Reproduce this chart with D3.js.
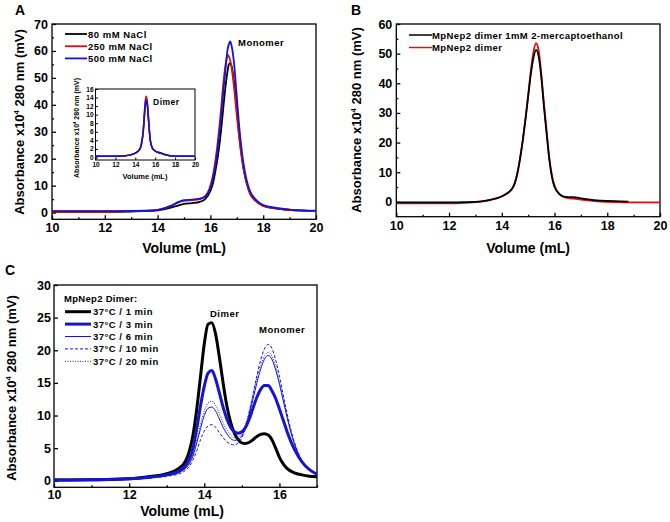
<!DOCTYPE html>
<html><head><meta charset="utf-8">
<script src="https://cdn.jsdelivr.net/npm/d3@7"></script>
<style>
body{margin:0;background:#fff;}
text{font-family:"Liberation Sans",Arial,sans-serif;font-weight:bold;fill:#000;}
</style></head>
<body><svg id="c" width="670" height="522"></svg>
<script>
// ---------- DATA ----------
// Panel A (main): volume (mL) and absorbance series
const volA = [10,11,12,13,13.5,14,14.5,14.8,15.0,15.3,15.6,15.8,16.0,16.1,16.2,16.3,16.4,16.5,16.6,16.65,16.7,16.75,16.8,16.9,17.0,17.1,17.2,17.3,17.4,17.5,17.7,18.0,18.5,19,19.5,20];
const a80  = [0.3,0.3,0.3,0.4,0.5,0.8,1.8,2.7,3.2,3.5,4.0,5.0,8,11,16,22,30,40,49,52.5,55,55.5,54.5,48,38,28,20,14,10,7,4.5,2.5,1.5,1.0,0.7,0.5];
const a250 = [0.4,0.4,0.4,0.5,0.6,1.0,2.5,3.8,4.3,4.6,5.0,6.0,10,14,20,28,38,49,56.5,58.5,58,56.5,54,46,36,27,19.5,14,10,7.2,4.5,2.5,1.5,1.0,0.7,0.5];
const a500 = [0.5,0.5,0.5,0.6,0.7,1.0,2.5,4.0,4.6,4.8,5.2,6.0,9,13,18,26,35,46,56,60.5,62.5,63.5,62,55,43,31,22,15.5,11,8,5,2.8,1.7,1.1,0.8,0.7];
const legendA = ["80 mM NaCl","250 mM NaCl","500 mM NaCl"];
// Panel A inset
const volIn = [10,12,13,13.5,14,14.4,14.6,14.8,14.9,15.0,15.1,15.2,15.3,15.4,15.5,15.7,16,16.5,17,17.5,18,20];
const in80  = [0.3,0.3,0.4,0.6,1.0,1.7,2.8,6,9,12,13,12.3,9.5,6.5,4,2.2,1.5,1.1,0.7,0.4,0.3,0.3];
const in250 = [0.3,0.3,0.4,0.6,1.0,1.8,3.0,6.5,10,13.2,14.3,13.2,10,6.8,4.2,2.3,1.5,1.0,0.6,0.4,0.3,0.3];
const in500 = [0.3,0.3,0.4,0.6,1.0,1.8,3.0,6.3,9.5,12.5,13.5,12.8,9.8,6.8,4.2,2.3,1.5,1.0,0.6,0.4,0.3,0.3];
// Panel B
const volB = [10,11,12,12.5,13,13.5,14,14.2,14.4,14.5,14.6,14.7,14.8,14.9,15.0,15.1,15.2,15.3,15.4,15.5,15.6,15.7,15.8,15.9,16.0,16.2,16.4,16.6,16.8,17,17.5,18,18.5,18.8,19,20];
const bRed   = [-0.5,-0.5,-0.5,-0.4,-0.1,0.5,1.8,2.8,4.5,6.5,10,15,21,28,36,44,50.5,53.5,51,43,33,24,15,9,5.5,2.5,1.5,1.2,1.0,0.8,0.3,0,-0.1,-0.2,-0.2,-0.2];
const bBlack = [-0.2,-0.2,-0.2,-0.1,0,0.6,1.9,2.9,4.6,6.5,10,15,21,28,35.5,43,48.5,51.3,49,42,32,23,14.5,8.5,5,2.5,1.7,1.6,1.5,1.2,0.6,0.3,0.2,0.1,null,null];
const legendB = ["MpNep2 dimer 1mM 2-mercaptoethanol","MpNep2 dimer"];
// Panel C
const volC = [10,11,12,12.5,13,13.3,13.5,13.6,13.7,13.8,13.9,14.0,14.1,14.2,14.3,14.4,14.5,14.6,14.7,14.8,14.9,15.0,15.1,15.2,15.3,15.4,15.5,15.6,15.7,15.8,15.9,16.0,16.1,16.2,16.4,16.6,16.8,17];
const c1  = [0.1,0.15,0.3,0.6,1.1,1.8,3.0,4.5,7,11,16,21,24,24.2,22.5,19,15,11.5,9,7.3,6.3,5.8,5.7,5.9,6.3,6.8,7.1,7.2,7.0,6.3,5.0,3.6,2.6,1.9,1.2,0.9,0.7,0.6];
const c3  = [0.1,0.15,0.3,0.5,0.9,1.4,2.3,3.3,5,8,11.5,14.5,16.5,16.9,15.6,13.5,11.3,9.5,8.2,7.5,7.3,7.5,8.2,9.5,11.2,12.8,14.0,14.6,14.6,13.8,12.6,11.0,9.3,7.6,4.8,2.9,1.7,1.0];
const c6  = [0.1,0.15,0.3,0.45,0.8,1.2,1.9,2.6,3.8,5.8,8,10,11.1,11.3,10.7,9.5,8.2,7.2,6.5,6.2,6.3,6.9,8.2,10.2,12.6,15.0,17.1,18.6,19.2,18.6,17.0,14.8,12.3,9.8,5.6,3.0,1.7,1.0];
const c10 = [0.1,0.15,0.25,0.4,0.7,1.0,1.6,2.2,3.2,4.6,6.3,7.6,8.4,8.6,8.2,7.4,6.6,6.0,5.6,5.5,5.8,6.6,8.2,10.6,13.3,16.1,18.5,20.2,20.9,20.3,18.5,16.0,13.2,10.4,5.9,3.1,1.7,1.0];
const c20 = [0.1,0.15,0.3,0.5,0.85,1.3,2.0,2.8,4.1,6.2,8.6,10.7,11.9,12.2,11.6,10.3,8.9,7.8,7.0,6.6,6.7,7.3,8.7,10.8,13.3,15.7,17.7,19.1,19.7,19.1,17.5,15.2,12.6,10.0,5.7,3.0,1.7,1.0];
const legendC = ["37°C / 1 min","37°C / 3 min","37°C / 6 min","37°C / 10 min","37°C / 20 min"];
// tick labels
const ticksXA = [10,12,14,16,18,20];
const ticksYA = [0,10,20,30,40,50,60,70];
const ticksYB = [0,10,20,30,40,50,60];
const ticksXC = [10,12,14,16];
const ticksYC = [0,5,10,15,20,25,30];
const ticksYIn = [0,2,4,6,8,10,12,14,16];

// ---------- DRAW ----------
const svg = d3.select("#c");
const BLUE = "#1414d2", RED = "#e01010";

function frame(g, x, y, opt) {
  const [x0,x1] = x.range(), [y0,y1] = y.range();
  const tl = opt.tickLen || 4;
  const ax = g.append("g").attr("transform", `translate(0,${y0})`)
    .call(d3.axisBottom(x).tickValues(opt.xt).tickSize(-tl).tickPadding(opt.pad||4).tickFormat(d3.format("d")));
  ax.select(".domain").remove();
  ax.selectAll("text").style("font-size", opt.fs+"px");
  if (opt.xminor) g.append("g").attr("transform", `translate(0,${y0})`)
    .call(d3.axisBottom(x).tickValues(opt.xminor).tickSize(-tl/2).tickFormat(""))
    .select(".domain").remove();
  const ay = g.append("g").attr("transform", `translate(${x0},0)`)
    .call(d3.axisLeft(y).tickValues(opt.yt).tickSize(-tl).tickPadding(opt.pad||4).tickFormat(d3.format("d")));
  ay.select(".domain").remove();
  ay.selectAll("text").style("font-size", opt.fs+"px");
  if (opt.yminor) g.append("g").attr("transform", `translate(${x0},0)`)
    .call(d3.axisLeft(y).tickValues(opt.yminor).tickSize(-tl/2).tickFormat(""))
    .select(".domain").remove();
  g.selectAll(".tick line").attr("stroke", "#000").attr("stroke-width", opt.sw||1.3);
  g.append("rect").attr("x", x0).attr("y", y1).attr("width", x1-x0).attr("height", y0-y1)
    .attr("fill", "none").attr("stroke", "#000").attr("stroke-width", opt.sw||1.3);
}

function series(g, x, y, xs, ys, color, w, dash) {
  const pts = xs.map((v,i)=>[v, ys[i]]).filter(d=>d[1]!=null);
  g.append("path").datum(pts)
    .attr("d", d3.line().x(d=>x(d[0])).y(d=>y(d[1])).curve(d3.curveMonotoneX))
    .attr("fill","none").attr("stroke",color).attr("stroke-width",w)
    .attr("stroke-dasharray", dash||null).attr("stroke-linejoin","round");
}

function ylabel(g, cx, cy, fs) {
  const t = g.append("text").attr("transform", `translate(${cx},${cy}) rotate(-90)`)
    .attr("text-anchor","middle").style("font-size", fs+"px");
  t.append("tspan").text("Absorbance x10");
  t.append("tspan").text("4").attr("dy", -fs*0.4).style("font-size", (fs*0.6)+"px");
  t.append("tspan").text(" 280 nm (mV)").attr("dy", fs*0.4);
}
function label(g, x, y, s, fs, anchor, ls) {
  return g.append("text").attr("x",x).attr("y",y).attr("text-anchor",anchor||"start")
    .style("font-size", fs+"px").style("letter-spacing", ls!=null? ls+"px" : null).text(s);
}
function odd(a,b){const r=[];for(let v=a;v<=b;v+=2)r.push(v);return r;}

// ===== Panel A =====
{
  const g = svg.append("g");
  const x = d3.scaleLinear([10,20],[52,316]);
  const y = d3.scaleLinear([-2.5,70],[219.3,24]);
  frame(g, x, y, {xt:ticksXA, yt:ticksYA, fs:12.5, xminor:odd(11,19), yminor:[5,15,25,35,45,55,65]});
  series(g,x,y,volA,a80,"#000",1.8);
  series(g,x,y,volA,a250,RED,1.8);
  series(g,x,y,volA,a500,BLUE,1.8);
  const cols = ["#000",RED,BLUE];
  legendA.forEach((s,i)=>{
    const yy = 34 + i*12.2;
    g.append("line").attr("x1",65).attr("x2",87).attr("y1",yy).attr("y2",yy).attr("stroke",cols[i]).attr("stroke-width",1.8);
    label(g,88,yy+3.5,s,9.5,"start",0.5);
  });
  label(g,238,45.5,"Monomer",9.5,"start",0.5);
  ylabel(g,24,122,13);
  label(g,184,253,"Volume (mL)",14,"middle");
  label(g,15,15,"A",14,"start");
  // inset
  const xi = d3.scaleLinear([10,20],[95.5,195]);
  const yi = d3.scaleLinear([-0.6,16],[160,89]);
  const gi = g.append("g");
  gi.append("rect").attr("x",95.5).attr("y",89).attr("width",99.5).attr("height",71).attr("fill","#fff");
  frame(gi, xi, yi, {xt:ticksXA, yt:ticksYIn, fs:6.5, tickLen:2.5, pad:2, sw:1});
  series(gi,xi,yi,volIn,in80,"#000",1.5);
  series(gi,xi,yi,volIn,in250,RED,1.5);
  series(gi,xi,yi,volIn,in500,BLUE,1.5);
  label(gi,153,104.5,"Dimer",8.5,"start",0.5);
  ylabel(gi,79,128,7);
  label(gi,145,179,"Volume (mL)",7.5,"middle");
}

// ===== Panel B =====
{
  const g = svg.append("g");
  const x = d3.scaleLinear([10,20],[396.3,660]);
  const y = d3.scaleLinear([-5,60],[216.7,24]);
  frame(g, x, y, {xt:ticksXA, yt:ticksYB, fs:12.5, xminor:odd(11,19), yminor:[5,15,25,35,45,55]});
  series(g,x,y,volB,bRed,RED,1.8);
  series(g,x,y,volB,bBlack,"#000",1.8);
  const cols = ["#000",RED];
  legendB.forEach((s,i)=>{
    const yy = 35 + i*12.5;
    g.append("line").attr("x1",409).attr("x2",432).attr("y1",yy).attr("y2",yy).attr("stroke",cols[i]).attr("stroke-width",1.5);
    label(g,432,yy+3.5,s,9.5,"start",0.4);
  });
  ylabel(g,361,120,13);
  label(g,528,253,"Volume (mL)",14,"middle");
  label(g,351,15,"B",14,"start");
}

// ===== Panel C =====
{
  const g = svg.append("g");
  const x = d3.scaleLinear([10,17],[54,317]);
  const y = d3.scaleLinear([-1,30],[487.3,285]);
  frame(g, x, y, {xt:ticksXC, yt:ticksYC, fs:12.5, pad:3, xminor:[11,13,15,17]});
  const specs = [
    [c1,"#000",3,null],[c3,BLUE,3,null],[c6,BLUE,1,null],[c10,BLUE,1,"3,2"],[c20,BLUE,1,"1,1.5"]
  ];
  specs.forEach(s=>series(g,x,y,volC,s[0],s[1],s[2],s[3]));
  label(g,64,302,"MpNep2 Dimer:",9.5,"start",0.3);
  legendC.forEach((s,i)=>{
    const yy = 311.7 + i*12.4;
    const sp = specs[i];
    g.append("line").attr("x1",65).attr("x2",91).attr("y1",yy).attr("y2",yy)
      .attr("stroke",sp[1]).attr("stroke-width",sp[2]).attr("stroke-dasharray",sp[3]);
    label(g,93,yy+3.5,s,9.5,"start",0.5);
  });
  label(g,210,316.5,"Dimer",9.5,"start",0.5);
  label(g,259,333,"Monomer",9.5,"start",0.5);
  ylabel(g,16,388,13);
  label(g,182,516,"Volume (mL)",14,"middle");
  label(g,5,275,"C",14,"start");
}
</script></body></html>
